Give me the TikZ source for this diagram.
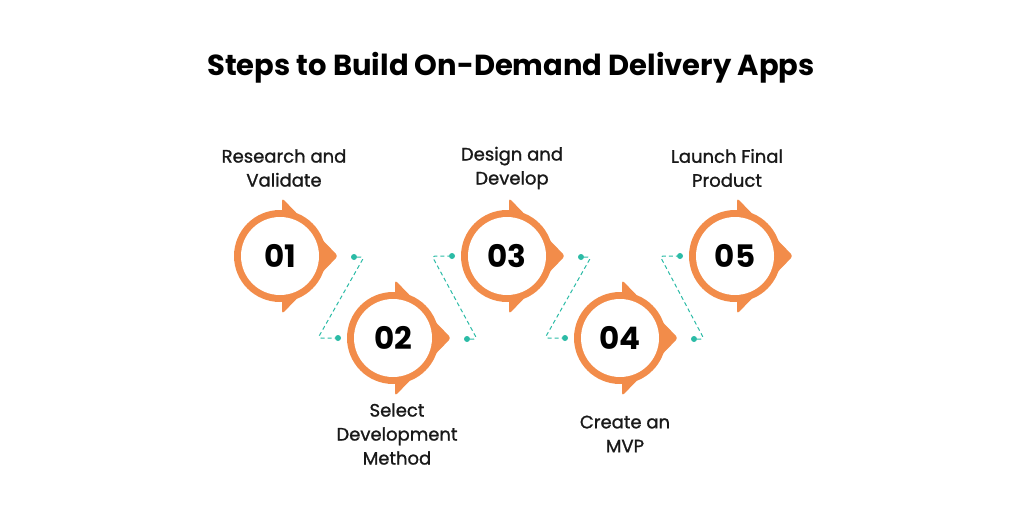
\documentclass[tikz,border=0pt]{standalone}
\usepackage{fontspec}
\setmainfont{Poppins}
\newfontfamily\lblfont[FakeBold=1.2]{Poppins}
\usetikzlibrary{calc}
\definecolor{stepor}{HTML}{F28C4A}
\definecolor{linkteal}{HTML}{2BBBA6}
\tikzset{
  num/.style={font=\fontsize{31}{32}\selectfont\bfseries, text=black},
  lbl/.style={font=\lblfont\fontsize{18}{24}\selectfont, align=center, text=black!90},
  dot/.style={circle, fill=linkteal, inner sep=0pt, minimum size=6pt},
  link/.style={draw=linkteal, dashed, dash pattern=on 4pt off 3pt, line width=1pt, rounded corners=3pt}
}
\begin{document}
\begin{tikzpicture}[x=1pt,y=-1pt]
  \useasboundingbox (0,0) rectangle (1024,506);
  \node[font=\fontsize{29}{30}\selectfont\bfseries] (title) at (511,68) {Steps to Build On-Demand Delivery Apps};

  \foreach \i/\x/\y in {1/280/256, 2/393/338, 3/507/256, 4/620/338, 5/735/256}
  {\fill[stepor] (\x,\y) circle (46);
   \fill[stepor, rounded corners=3pt] (\x+2,\y-58) -- (\x+58,\y) -- (\x+2,\y+58) -- cycle;
   \fill[white] (\x,\y) circle (39);
   \node[num] (s\i) at (\x,\y) {0\i};
  };

  % labels
  \node[lbl] (l1) at (284,168) {Research and\\Validate};
  \node[lbl] (l2) at (397,434) {Select\\Development\\Method};
  \node[lbl] (l3) at (512,168) {Design and\\Develop};
  \node[lbl] (l4) at (625,434) {Create an\\MVP};
  \node[lbl] (l5) at (727,168) {Launch Final\\Product};

  % dashed links
  \foreach \a/\b in {1/2, 2/3, 3/4, 4/5}
  {\node[dot] (a\a) at ($(s\a)+(74,1)$) {};
   \node[dot] (b\a) at ($(s\b)+(-55,0)$) {};
   \draw[link] (a\a) -- ++(10,0) -- ($(b\a)+(-20,0)$) -- (b\a);
  };
\end{tikzpicture}
\end{document}
